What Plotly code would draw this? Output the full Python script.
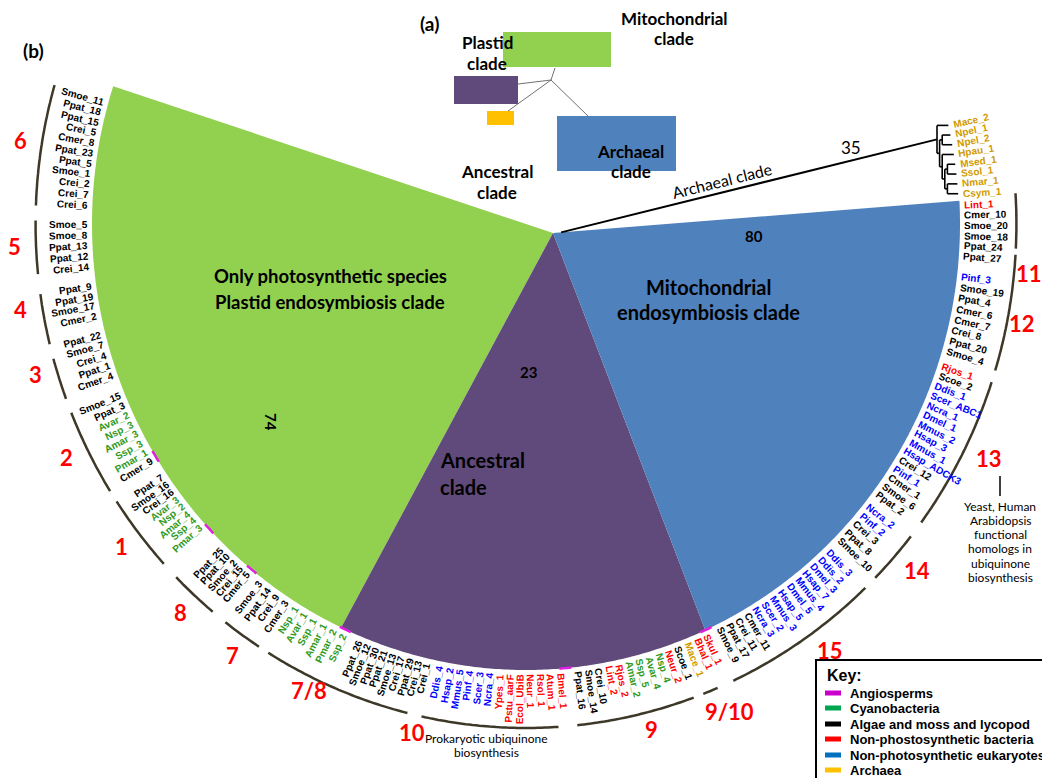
import math
import plotly.graph_objects as go

# ---------------- geometry of the circular tree (pixel space) ----------------
CX, CY, RX, RY = 518.0, 216.0, 434.0, 446.0   # ellipse on which the leaves sit
APEX_X, APEX_Y = 545.0, 225.0                 # point where the three clades meet

# ---------------- clade wedges ----------------
wedge_phi_start = [198.0, 115.2, 65.6]
wedge_phi_end = [115.2, 65.6, -3.0]
wedge_colors = ["#92D050", "#604A7B", "#4F81BD"]

# ---------------- leaf labels (k=algae/moss, g=cyanobacteria, r=bacteria, b=eukaryotes, o=archaea) ----
g6 = ["Smoe_11", "Ppat_18", "Ppat_15", "Crei_5", "Cmer_8", "Ppat_23", "Ppat_5", "Smoe_1", "Crei_2", "Crei_7", "Crei_6"]
g6_c = "kkkkkkkkkkk"
g5 = ["Smoe_5", "Smoe_8", "Ppat_13", "Ppat_12", "Crei_14"]
g5_c = "kkkkk"
g4 = ["Ppat_9", "Ppat_19", "Smoe_17", "Cmer_2"]
g4_c = "kkkk"
g3 = ["Ppat_22", "Smoe_7", "Crei_4", "Ppat_1", "Cmer_4"]
g3_c = "kkkkk"
g2 = ["Smoe_15", "Ppat_3", "Avar_2", "Nsp_3", "Amar_3", "Ssp_3", "Pmar_1", "Cmer_9"]
g2_c = "kkgggggk"
g1 = ["Ppat_7", "Smoe_16", "Crei_16", "Avar_3", "Nsp_2", "Amar_4", "Ssp_4", "Pmar_3"]
g1_c = "kkkggggg"
g8 = ["Ppat_25", "Ppat_10", "Smoe_2", "Crei_15", "Cmer_5"]
g8_c = "kkkkk"
g7 = ["Smoe_3", "Ppat_14", "Crei_9", "Cmer_3", "Nsp_1", "Avar_1", "Ssp_1", "Amar_1", "Pmar_2", "Ssp_2"]
g7_c = "kkkkgggggg"
p1 = ["Ppat_26", "Smoe_12", "Ppat_30", "Ppat_21", "Smoe_13", "Crei_17", "Ppat_29", "Crei_13", "Crei_1"]
p1_c = "kkkkkkkkk"
p2 = ["Ddis_4", "Hsap_2", "Mmus_5", "Pinf_4", "Scer_3", "Ncra_4", "Ypes_1", "Pstu_aarF", "Ecol_UbiB",
      "Neur_1", "Rsol_1", "Atum_1", "Bmel_1"]
p2_c = "bbbbbbrrrrrrr"
p3 = ["Ppat_16", "Smoe_14", "Crei_10", "Lint_2", "Rjos_2", "Amar_2", "Ssp_5", "Avar_4", "Nsp_4",
      "Neur_2", "Scoe_1", "Mace_1", "Bhal_1", "Skul_1"]
p3_c = "kkkrrggggrkorr"
r15 = ["Smoe_9", "Ppat_17", "Crei_11", "Cmer_11", "Ncra_3", "Scer_2", "Mmus_3", "Hsap_5", "Dmel_5",
       "Mmus_4", "Hsap_7", "Dmel_3", "Ddis_2", "Ddis_3"]
r15_c = "kkkkbbbbbbbbbb"
r14 = ["Smoe_10", "Ppat_8", "Crei_3", "Pinf_2", "Ncra_2"]
r14_c = "kkkbb"
r13 = ["Ppat_2", "Smoe_6", "Cmer_1", "Pinf_1", "Crei_12", "Hsap_ADCK3", "Mmus_1", "Hsap_3", "Mmus_2",
       "Dmel_1", "Ncra_1", "Scer_ABC1", "Ddis_1", "Scoe_2", "Rjos_1"]
r13_c = "kkkbkbbbbbbbbkr"
r12 = ["Smoe_4", "Ppat_20", "Crei_8", "Cmer_7", "Cmer_6", "Ppat_4", "Smoe_19", "Pinf_3"]
r12_c = "kkkkkkkb"
r11 = ["Ppat_27", "Ppat_24", "Smoe_18", "Smoe_20", "Cmer_10", "Lint_1"]
r11_c = "kkkkkr"
arch = ["Csym_1", "Nmar_1", "Ssol_1", "Msed_1", "Hpau_1", "Npel_2", "Npel_1", "Mace_2"]
arch_c = "oooooooo"

leaf_sets = [
    (g6, g6_c, 195.7, 182.4), (g5, g5_c, 179.9, 174.5), (g4, g4_c, 172.0, 168.3),
    (g3, g3_c, 165.8, 160.4), (g2, g2_c, 157.7, 148.4), (g1, g1_c, 146.0, 137.9),
    (g8, g8_c, 133.9, 129.3), (g7, g7_c, 127.4, 114.6), (p1, p1_c, 112.3, 103.0),
    (p2, p2_c, 101.3, 85.5), (p3, p3_c, 83.2, 65.7), (r15, r15_c, 63.7, 46.5),
    (r14, r14_c, 44.4, 38.7), (r13, r13_c, 36.7, 18.4), (r12, r12_c, 16.4, 6.7),
    (r11, r11_c, 4.1, -2.4), (arch, arch_c, -3.9, -12.8),
]
cat_colors = {"k": "#000000", "g": "#2F9A22", "r": "#FF0000", "b": "#0000FF", "o": "#D09A00"}

# ---------------- group arcs and their numbers ----------------
arc_labels = ["6", "5", "4", "3", "2", "1", "8", "7", "7/8", "10", "9", "9/10", "15", "14", "13", "12", "11"]
arc_start = [196.0, 180.4, 172.0, 164.5, 158.0, 146.6, 135.5, 127.8, 121.7, 102.3, 84.0, 68.8, 65.0, 44.6, 36.3, 16.9, 2.8]
arc_end = [182.1, 174.3, 166.2, 159.7, 148.0, 137.6, 129.7, 123.0, 104.0, 86.2, 70.0, 67.0, 46.2, 38.3, 18.3, 3.5, -3.5]
num_phi = [189.1, 177.6, 170.7, 163.4, 153.7, 142.2, 132.4, 124.9, 115.5, 103.0, 75.7, 66.8, 53.8, 40.8, 26.2, 11.0, 5.5]
num_f = [1.18, 1.18, 1.18, 1.18, 1.18, 1.18, 1.18, 1.18, 1.16, 1.17, 1.17, 1.19, 1.185, 1.19, 1.19, 1.165, 1.165]

# angiosperm (magenta) ticks on the clade edges
angio_phi = [148.6, 136.9, 129.2, 114.6, 84.8, 65.5]

# archaeal subtree (nested clades) and its branch depth offsets
arch_tree = ("Mace_2", (("Npel_1", "Npel_2"), ("Hpau_1", (("Msed_1", "Ssol_1"), ("Nmar_1", "Csym_1")))))
ARCH_ROOT_X = 929.0
arch_depth_step = 2.6

# inset (a): clade boxes
inset_x0 = [495, 446, 479, 549]
inset_x1 = [603, 510, 506, 668]
inset_y0 = [24, 68, 103, 108]
inset_y1 = [59, 96, 117, 163]
inset_colors = ["#92D050", "#604A7B", "#FFC000", "#4F81BD"]
inset_node = (543, 72)
inset_link_x = [547, 510, 500, 580]
inset_link_y = [60, 76, 103, 108]

# key
key_items = ["Angiosperms", "Cyanobacteria", "Algae and moss and lycopod", "Non-phostosynthetic bacteria",
             "Non-photosynthetic eukaryotes", "Archaea"]
key_colors = ["#CC00CC", "#00A550", "#000000", "#FF0000", "#0070C0", "#FFC000"]
key_y = [685, 700, 716, 731, 747, 762]

# ---------------- helpers ----------------
AW = {c: w for c, w in zip("ABCDEFGHIJKLMNOPQRSTUVWXYZ",
                           [722, 722, 722, 722, 667, 611, 778, 722, 278, 556, 722, 611, 833, 722, 778, 667, 778, 722, 667, 611, 722, 667, 944, 667, 667, 611])}
AW.update({c: w for c, w in zip("abcdefghijklmnopqrstuvwxyz",
                                [556, 611, 556, 611, 556, 333, 611, 611, 278, 278, 556, 278, 889, 611, 611, 611, 611, 389, 556, 333, 611, 556, 778, 556, 556, 500])})
AW.update({c: 556 for c in "0123456789_"})


def text_w(s, size):
    return sum(AW.get(ch, 556) for ch in s) * size / 1000.0


def ell(phi, f):
    r = math.radians(phi)
    return CX + f * RX * math.cos(r), CY + f * RY * math.sin(r)


def arc_path(p_from, p_to, f, start_at=None):
    n = max(2, int(abs(p_to - p_from) / 0.4) + 1)
    pts = [ell(p_from + (p_to - p_from) * i / (n - 1), f) for i in range(n)]
    if start_at:
        d = "M {:.1f} {:.1f} L {:.1f} {:.1f} ".format(start_at[0], start_at[1], *pts[0])
    else:
        d = "M {:.1f} {:.1f} ".format(*pts[0])
    d += " ".join("L {:.1f} {:.1f}".format(x, y) for x, y in pts[1:])
    return d


shapes = []
annotations = []

# wedges
for ps, pe, col in zip(wedge_phi_start, wedge_phi_end, wedge_colors):
    shapes.append(dict(type="path", path=arc_path(ps, pe, 1.0, start_at=(APEX_X, APEX_Y)) + " Z",
                       fillcolor=col, line=dict(width=0), layer="below"))

# angiosperm ticks
for p in angio_phi:
    shapes.append(dict(type="path", path=arc_path(p + 0.8, p - 0.8, 1.0),
                       line=dict(color="#E020E0", width=2.5)))

# leaf labels
leaf_phi = {}
LABEL_F = 1.008
for names, cats, pa, pb in leaf_sets:
    n = len(names)
    for i, (nm, c) in enumerate(zip(names, cats)):
        phi = pa + (pb - pa) * i / (n - 1) if n > 1 else pa
        leaf_phi[nm] = phi
        r = math.radians(phi)
        ux, uy = math.cos(r), math.sin(r)
        x0, y0 = ell(phi, LABEL_F)
        w = text_w(nm, 10)
        ang = phi if ux >= 0 else phi - 180
        annotations.append(dict(x=x0 + (w / 2 + 1) * ux, y=y0 + (w / 2 + 1) * uy, text="<b>%s</b>" % nm,
                                textangle=ang, showarrow=False, xanchor="center", yanchor="middle",
                                font=dict(size=10, color=cat_colors[c], family="Liberation Sans, Arial")))

# group arcs and numbers
for lab, ps, pe, nph, nf in zip(arc_labels, arc_start, arc_end, num_phi, num_f):
    shapes.append(dict(type="path", path=arc_path(ps, pe, 1.13), line=dict(color="#3D3828", width=2.5)))
    x, y = ell(nph, nf)
    annotations.append(dict(x=x, y=y, text="<b>%s</b>" % lab, showarrow=False, xanchor="center", yanchor="middle",
                            font=dict(size=22, color="#FF0000", family="Lato")))


# archaeal subtree
def leaf_xy(nm):
    return ell(leaf_phi[nm], 0.998)


def draw_clade(node, depth):
    """returns (x_node, y_node); draws rectangular cladogram lines"""
    if isinstance(node, str):
        return leaf_xy(node)
    xn = ARCH_ROOT_X + depth * arch_depth_step
    kids = [draw_clade(k, depth + 1) for k in node]
    ys = [k[1] for k in kids]
    shapes.append(dict(type="line", x0=xn, x1=xn, y0=min(ys), y1=max(ys), line=dict(color="black", width=1.6)))
    for kx, ky in kids:
        shapes.append(dict(type="line", x0=xn, x1=kx, y0=ky, y1=ky, line=dict(color="black", width=1.6)))
    return xn, sum(ys) / len(ys)


rx_, ry_ = draw_clade(arch_tree, 0)
# branch from the blue clade edge to the archaeal subtree
tip = ell(wedge_phi_end[2], 1.0)
bx = APEX_X + (tip[0] - APEX_X) * 0.02
by = APEX_Y + (tip[1] - APEX_Y) * 0.02
shapes.append(dict(type="line", x0=bx, y0=by, x1=rx_, y1=ry_, line=dict(color="black", width=2)))
line_ang = math.degrees(math.atan2(ry_ - by, rx_ - bx))


def along(t, off):
    x = bx + (rx_ - bx) * t
    y = by + (ry_ - by) * t
    nx, ny = math.sin(math.radians(line_ang)), -math.cos(math.radians(line_ang))
    return x + off * nx, y + off * ny


ax_, ay_ = along(0.435, 12)
annotations.append(dict(x=ax_, y=ay_, text="Archaeal clade", textangle=line_ang, showarrow=False,
                        font=dict(size=16, color="black", family="Lato")))
ax_, ay_ = along(0.78, 13)
annotations.append(dict(x=ax_, y=ay_, text="35", showarrow=False, font=dict(size=17, color="black", family="Lato")))

# wedge texts
big = dict(size=20, color="black", family="Lato")
green_txt = dict(size=18.5, color="black", family="Lato")
annotations += [
    dict(x=322, y=268, text="<b>Only photosynthetic species</b>", showarrow=False, font=green_txt),
    dict(x=322, y=294, text="<b>Plastid endosymbiosis clade</b>", showarrow=False, font=green_txt),
    dict(x=700, y=279, text="<b>Mitochondrial</b>", showarrow=False, font=big),
    dict(x=700, y=304, text="<b>endosymbiosis clade</b>", showarrow=False, font=big),
    dict(x=430, y=452, text="<b>Ancestral</b>", showarrow=False, font=big, xanchor="left"),
    dict(x=430, y=479, text="<b>clade</b>", showarrow=False, font=big, xanchor="left"),
    dict(x=263, y=414, text="<b>74</b>", showarrow=False, textangle=90, font=dict(size=15, color="black", family="Lato")),
    dict(x=520, y=364, text="<b>23</b>", showarrow=False, font=dict(size=15, color="black", family="Lato")),
    dict(x=746, y=228, text="<b>80</b>", showarrow=False, font=dict(size=15, color="black", family="Lato")),
]

# inset (a)
for x0, x1, y0, y1, col in zip(inset_x0, inset_x1, inset_y0, inset_y1, inset_colors):
    shapes.append(dict(type="rect", x0=x0, x1=x1, y0=y0, y1=y1, fillcolor=col, line=dict(width=0)))
for lx, ly in zip(inset_link_x, inset_link_y):
    shapes.append(dict(type="line", x0=inset_node[0], y0=inset_node[1], x1=lx, y1=ly, line=dict(color="#707070", width=1)))
ins = dict(size=17, color="black", family="Lato")
for txt, x, y in [("<b>Plastid</b>", 479, 34), ("<b>clade</b>", 479, 55), ("<b>Mitochondrial</b>", 666, 10),
                  ("<b>clade</b>", 666, 30), ("<b>Ancestral</b>", 489, 163), ("<b>clade</b>", 489, 184),
                  ("<b>Archaeal</b>", 622, 143), ("<b>clade</b>", 623, 163)]:
    annotations.append(dict(x=x, y=y, text=txt, showarrow=False, font=ins))
annotations.append(dict(x=421, y=15, text="<b>(a)</b>", showarrow=False, font=dict(size=19, color="black", family="Lato")))
annotations.append(dict(x=25, y=42, text="<b>(b)</b>", showarrow=False, font=dict(size=19, color="black", family="Lato")))

# note for group 13
shapes.append(dict(type="line", x0=992, x1=992, y0=468, y1=488, line=dict(color="black", width=1.5)))
for i, t in enumerate(["Yeast, Human", "Arabidopsis", "functional", "homologs in", "ubiquinone", "biosynthesis"]):
    annotations.append(dict(x=992, y=498 + i * 14.3, text=t, showarrow=False, font=dict(size=12, color="black", family="Lato")))
# note for group 10
annotations.append(dict(x=478, y=730, text="Prokaryotic ubiquinone", showarrow=False, font=dict(size=12, color="black", family="Lato")))
annotations.append(dict(x=478, y=744, text="biosynthesis", showarrow=False, font=dict(size=12, color="black", family="Lato")))

# key
shapes.append(dict(type="rect", x0=808, x1=1043, y0=652, y1=776, line=dict(color="black", width=2), fillcolor="white"))
annotations.append(dict(x=817, y=667, text="<b>Key:</b>", xanchor="left", showarrow=False,
                        font=dict(size=16, color="black", family="Liberation Sans, Arial")))
for t, c, y in zip(key_items, key_colors, key_y):
    shapes.append(dict(type="line", x0=817, x1=833, y0=y, y1=y, line=dict(color=c, width=5)))
    annotations.append(dict(x=840, y=y, text="<b>%s</b>" % t, xanchor="left", showarrow=False,
                            font=dict(size=13, color="black", family="Liberation Sans, Arial")))

fig = go.Figure()
fig.add_trace(go.Scatter(x=[0, 1050], y=[0, 778], mode="markers", marker=dict(opacity=0), hoverinfo="skip", showlegend=False))
fig.update_layout(
    width=1050, height=778, margin=dict(l=0, r=0, t=0, b=0),
    paper_bgcolor="white", plot_bgcolor="white",
    xaxis=dict(range=[0, 1050], visible=False, fixedrange=True),
    yaxis=dict(range=[778, 0], visible=False, fixedrange=True),
    shapes=shapes, annotations=annotations, showlegend=False,
)
fig.write_html("out.html")
